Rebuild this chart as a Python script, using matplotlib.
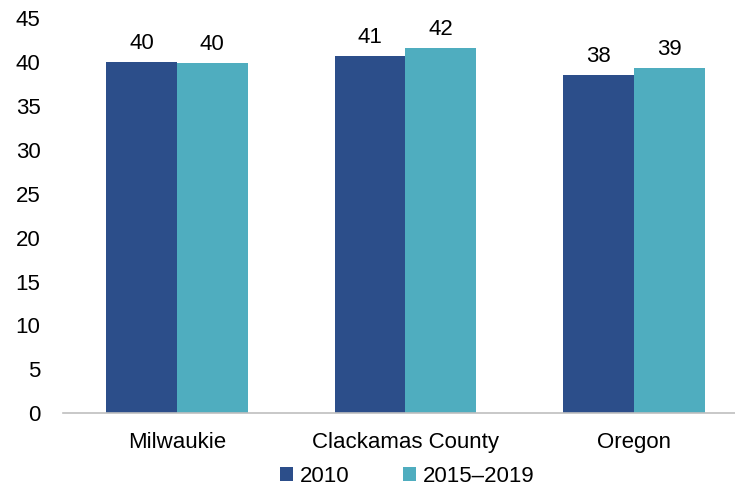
import matplotlib
matplotlib.use("Agg")
import matplotlib.pyplot as plt
import numpy as np

categories = ["Milwaukie", "Clackamas County", "Oregon"]
series_names = ["2010", "2015\u20132019"]
values_2010 = [40.0, 40.7, 38.5]
values_2015_2019 = [39.9, 41.6, 39.3]
labels_2010 = ["40", "41", "38"]
labels_2015_2019 = ["40", "42", "39"]
yticks = [0, 5, 10, 15, 20, 25, 30, 35, 40, 45]

colors = ["#2C4E8A", "#4FADBF"]

plt.rcParams['font.family'] = ['Liberation Sans', 'DejaVu Sans']
FS = 16

fig = plt.figure(figsize=(7.35, 4.86), dpi=100)
ax = fig.add_axes([62.7/735, 1-413/486, 1-62.7/735, (413-18.5)/486])

x = np.arange(len(categories))
w = 0.31
b1 = ax.bar(x - w/2, values_2010, w, color=colors[0], label=series_names[0])
b2 = ax.bar(x + w/2, values_2015_2019, w, color=colors[1], label=series_names[1])

for bars, labs in ((b1, labels_2010), (b2, labels_2015_2019)):
    for bar, lab in zip(bars, labs):
        ax.annotate(lab, (bar.get_x() + bar.get_width()/2, bar.get_height()),
                    xytext=(0, 6), textcoords="offset points",
                    ha="center", va="bottom", fontsize=FS, color="#000000")

ax.set_xlim(-0.5, 2.5 - 13/229)
ax.set_ylim(0, 45)
ax.set_yticks(yticks)
ax.set_xticks(x)
ax.set_xticklabels(categories)
ax.tick_params(axis='both', length=0, labelsize=FS, colors="#000000")
ax.tick_params(axis='x', pad=14)
ax.tick_params(axis='y', pad=16)
for s in ["top", "right", "left"]:
    ax.spines[s].set_visible(False)
ax.spines["bottom"].set_color("#BFBFBF")
ax.spines["bottom"].set_linewidth(1.2)

fig.legend(handles=[b1, b2], labels=series_names, loc="center",
           bbox_to_anchor=(407/735, 1-476/486), ncol=2, frameon=False,
           fontsize=FS, handlelength=0.6, handleheight=0.6,
           handletextpad=0.3, columnspacing=2.4)

fig.savefig("out.png", dpi=100)
